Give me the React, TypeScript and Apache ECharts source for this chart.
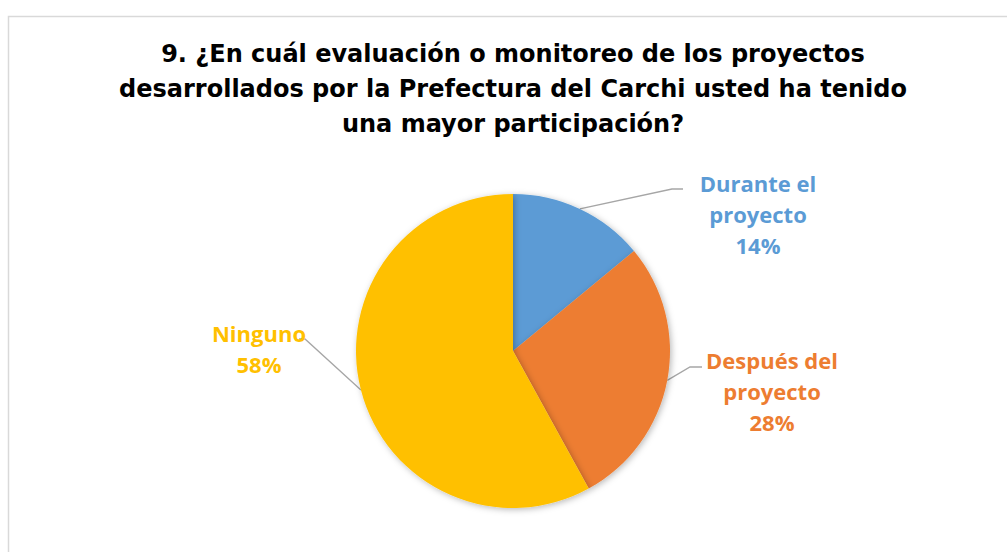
import React, { useEffect, useRef } from "react";
import * as echarts from "echarts";

const categories = ["Durante el\nproyecto", "Después del\nproyecto", "Ninguno"];
const values = [14, 28, 58];
const colors = ["#5B9BD5", "#ED7D31", "#FFC000"];
const titleLines = [
  "9. ¿En cuál evaluación o monitoreo de los proyectos",
  "desarrollados por la Prefectura del Carchi usted ha tenido",
  "una mayor participación?",
];

// label placement (layout only): label centre, leader-line elbow and end
const labelSpots = [
  { x: 758, y: 214, elbow: [672, 189], end: [683, 189] },
  { x: 772, y: 391, elbow: [690, 367], end: [702, 367] },
  { x: 259, y: 348, elbow: [305, 339], end: [299, 339] },
];

export default function App() {
  const ref = useRef<HTMLDivElement>(null);
  useEffect(() => {
    if (!ref.current) return;
    const chart = echarts.init(ref.current, undefined, { renderer: "svg" });
    const labelFont = "'Open Sans', 'Noto Sans', sans-serif";
    chart.setOption({
      animation: false,
      backgroundColor: "#ffffff",
      graphic: [
        {
          type: "rect",
          shape: { x: 8.5, y: 16.5, width: 1100, height: 600 },
          style: { fill: "none", stroke: "#d9d9d9", lineWidth: 1.5 },
          silent: true,
        },
        {
          type: "text",
          x: 513,
          y: 89,
          style: {
            text: titleLines.join("\n"),
            fill: "#000000",
            fontWeight: "bold",
            fontSize: 24,
            fontFamily: "'DejaVu Sans', sans-serif",
            lineHeight: 35,
            textAlign: "center",
            textVerticalAlign: "middle",
          },
        },
      ],
      series: [
        {
          type: "pie",
          center: [513, 351],
          radius: 157,
          startAngle: 90,
          clockwise: true,
          avoidLabelOverlap: false,
          itemStyle: {
            borderWidth: 0,
            shadowBlur: 6,
            shadowColor: "rgba(0,0,0,0.28)",
            shadowOffsetX: 1.5,
            shadowOffsetY: 1.5,
          },
          label: {
            show: true,
            position: "outside",
            fontFamily: labelFont,
            fontWeight: "bold",
            fontSize: 22,
            lineHeight: 31,
            formatter: (p: any) => `${p.name}\n${Math.round(p.percent)}%`,
          },
          labelLine: {
            show: true,
            length: 10,
            length2: 10,
            lineStyle: { color: "#a6a6a6", width: 1.3 },
          },
          labelLayout: (params: any) => {
            const s = labelSpots[params.dataIndex];
            const start = params.labelLinePoints ? params.labelLinePoints[0] : s.elbow;
            return {
              x: s.x,
              y: s.y,
              align: "center",
              verticalAlign: "middle",
              labelLinePoints: [start, s.elbow, s.end],
            };
          },
          data: categories.map((name, i) => ({
            name,
            value: values[i],
            itemStyle: { color: colors[i] },
            label: { color: colors[i] },
          })),
        },
      ],
    });
    return () => chart.dispose();
  }, []);
  return (
    <div
      ref={ref}
      style={{ position: "fixed", left: 0, top: 0, width: 1007, height: 552 }}
    />
  );
}
